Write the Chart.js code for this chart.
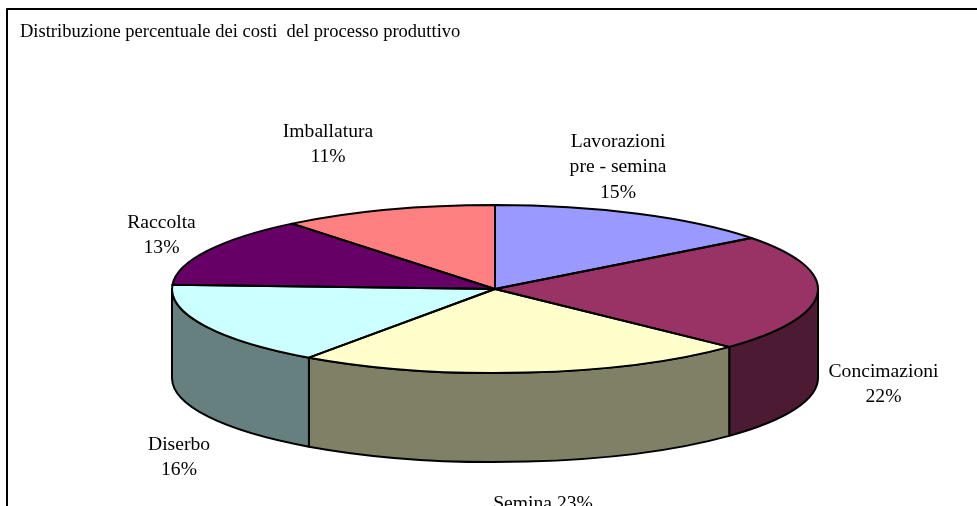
<!DOCTYPE html>
<html>
<head>
<meta charset="utf-8">
<title>Distribuzione percentuale dei costi</title>
<script src="https://cdn.jsdelivr.net/npm/chart.js@4"></script>
<style>
    html, body { margin: 0; padding: 0; background: #fff; overflow: hidden; }
    canvas { display: block; }
</style>
</head>
<body>
<canvas id="pieChart" width="977" height="506"></canvas>
<script>
var titleText = 'Distribuzione percentuale dei costi  del processo produttivo';
var categories = ['Lavorazioni pre - semina', 'Concimazioni', 'Semina', 'Diserbo', 'Raccolta', 'Imballatura'];
// estimated from the slice edges, they round to the printed percentages
var costShare = [14.6, 22.49, 22.68, 16.02, 13.4, 10.81];
var topColors = ['#9999FF', '#993366', '#FFFFCC', '#CCFFFF', '#660066', '#FF8080'];
var wallColors = ['#4D4D80', '#4D1A33', '#808066', '#668080', '#330033', '#804040'];

// where the 3D pie sits on the page
var pie3d = { cx: 495, cy: 289, rx: 323, ry: 84, depth: 89 };
var fontName = '"Liberation Serif", "Times New Roman", serif';

// label centre x and first baseline y, one entry per category
var labelSpots = [
    { x: 618, y: 147, lines: ['Lavorazioni', 'pre - semina'] },
    { x: 883.5, y: 377, lines: ['Concimazioni'] },
    { x: 543, y: 509, lines: [], inline: 'Semina' },
    { x: 179, y: 450, lines: ['Diserbo'] },
    { x: 161.5, y: 228, lines: ['Raccolta'] },
    { x: 328, y: 137, lines: ['Imballatura'] }
];
var lineHeight = 25.3;

function sliceOutline(ctx, start, end) {
    ctx.beginPath();
    ctx.moveTo(pie3d.cx, pie3d.cy);
    ctx.ellipse(pie3d.cx, pie3d.cy, pie3d.rx, pie3d.ry, 0, start, end);
    ctx.closePath();
}

var pie3dPlugin = {
    id: 'pie3d',
    beforeDatasetsDraw: function (chart) {
        var ctx = chart.ctx;
        var arcs = chart.getDatasetMeta(0).data;

        // side walls, only the front half of the rim can be seen
        ctx.save();
        ctx.lineWidth = 2;
        ctx.strokeStyle = '#000';
        ctx.lineJoin = 'round';
        arcs.forEach(function (arc, i) {
            var a0 = Math.max(arc.startAngle, 0);
            var a1 = Math.min(arc.endAngle, Math.PI);
            if (a1 <= a0) return;
            ctx.beginPath();
            ctx.ellipse(pie3d.cx, pie3d.cy, pie3d.rx, pie3d.ry, 0, a0, a1);
            ctx.ellipse(pie3d.cx, pie3d.cy + pie3d.depth, pie3d.rx, pie3d.ry, 0, a1, a0, true);
            ctx.closePath();
            ctx.fillStyle = wallColors[i];
            ctx.fill();
            ctx.stroke();
        });
        ctx.restore();

        // squash the round pie into the ellipse of the top face
        var first = arcs[0];
        ctx.save();
        ctx.translate(pie3d.cx, pie3d.cy);
        ctx.scale(pie3d.rx / first.outerRadius, pie3d.ry / first.outerRadius);
        ctx.translate(-first.x, -first.y);
    },
    afterDatasetsDraw: function (chart) {
        var ctx = chart.ctx;
        ctx.restore();

        var arcs = chart.getDatasetMeta(0).data;
        ctx.save();
        ctx.lineWidth = 2;
        ctx.strokeStyle = '#000';
        ctx.lineJoin = 'round';
        arcs.forEach(function (arc) {
            sliceOutline(ctx, arc.startAngle, arc.endAngle);
            ctx.stroke();
        });

        // data labels
        ctx.fillStyle = '#000';
        ctx.font = '19.6px ' + fontName;
        ctx.textAlign = 'center';
        ctx.textBaseline = 'alphabetic';
        labelSpots.forEach(function (spot, i) {
            var pct = Math.round(costShare[i]) + '%';
            var lines = spot.inline ? [spot.inline + ' ' + pct] : spot.lines.concat(pct);
            lines.forEach(function (line, k) {
                ctx.fillText(line, spot.x, spot.y + k * lineHeight);
            });
        });

        // chart frame, the right and bottom sides fall outside the picture
        ctx.strokeStyle = '#000';
        ctx.lineWidth = 2;
        ctx.beginPath();
        ctx.moveTo(7, 506);
        ctx.lineTo(7, 9);
        ctx.lineTo(977, 9);
        ctx.stroke();
        ctx.restore();
    }
};

new Chart(document.getElementById('pieChart').getContext('2d'), {
    type: 'pie',
    data: {
        labels: categories,
        datasets: [{
            data: costShare,
            backgroundColor: topColors,
            borderWidth: 0,
            clip: false
        }]
    },
    options: {
        responsive: false,
        animation: false,
        rotation: 0,
        layout: { padding: { left: 20, top: 21 } },
        plugins: {
            legend: { display: false },
            tooltip: { enabled: false },
            title: {
                display: true,
                text: titleText,
                align: 'start',
                color: '#000',
                font: { family: fontName, size: 18.5, weight: 'normal' },
                padding: { top: 0, bottom: 4 }
            }
        }
    },
    plugins: [pie3dPlugin]
});
</script>
</body>
</html>
